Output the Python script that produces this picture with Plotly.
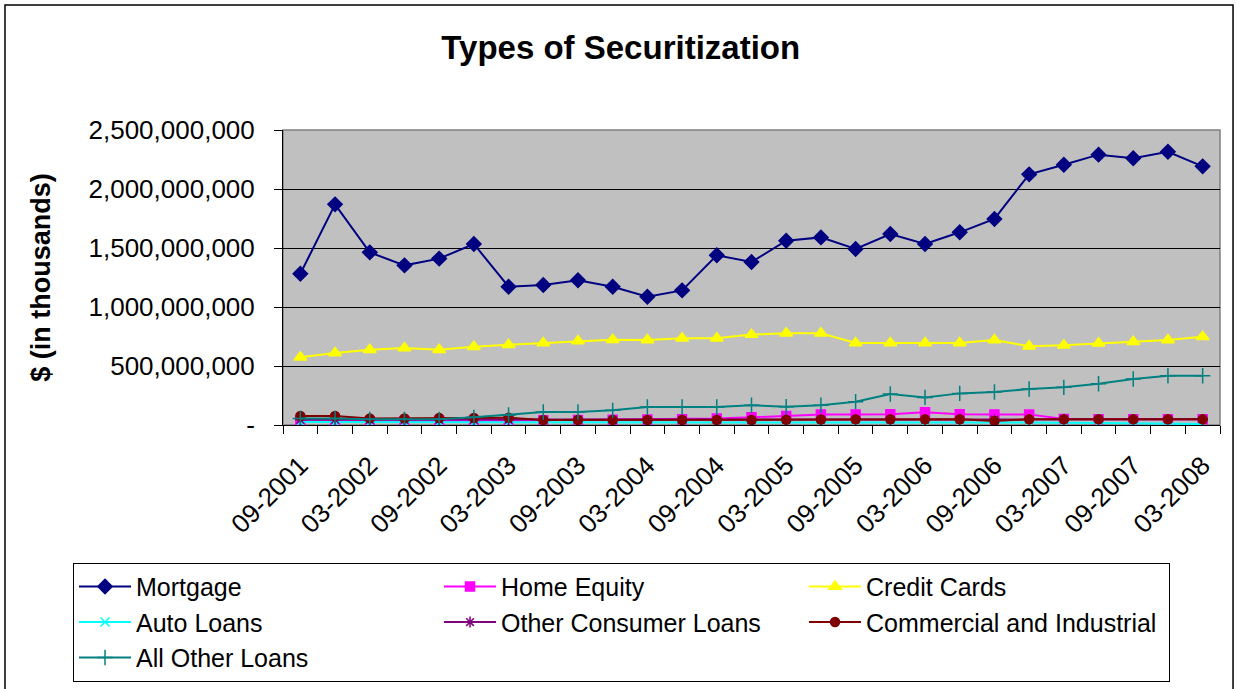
import plotly.graph_objects as go

# Quarter-end reporting dates
quarters = [
    "09-2001", "12-2001", "03-2002", "06-2002", "09-2002", "12-2002",
    "03-2003", "06-2003", "09-2003", "12-2003", "03-2004", "06-2004",
    "09-2004", "12-2004", "03-2005", "06-2005", "09-2005", "12-2005",
    "03-2006", "06-2006", "09-2006", "12-2006", "03-2007", "06-2007",
    "09-2007", "12-2007", "03-2008",
]

# Outstanding securitized balances, $ thousands
mortgage = [
    1282e6, 1870e6, 1463e6, 1353e6, 1410e6, 1534e6, 1172e6, 1186e6, 1226e6,
    1172e6, 1087e6, 1141e6, 1438e6, 1381e6, 1562e6, 1590e6, 1492e6, 1619e6,
    1534e6, 1633e6, 1746e6, 2124e6, 2206e6, 2291e6, 2260e6, 2316e6, 2192e6,
]
home_equity = [
    30e6, 30e6, 32e6, 32e6, 34e6, 36e6, 38e6, 40e6, 42e6, 44e6, 46e6, 48e6,
    55e6, 65e6, 76e6, 90e6, 90e6, 92e6, 107e6, 92e6, 90e6, 90e6, 50e6,
    48e6, 48e6, 48e6, 48e6,
]
credit_cards = [
    574e6, 610e6, 638e6, 653e6, 638e6, 664e6, 681e6, 695e6, 712e6, 723e6,
    720e6, 735e6, 735e6, 766e6, 777e6, 777e6, 695e6, 695e6, 695e6, 695e6,
    720e6, 667e6, 675e6, 692e6, 706e6, 720e6, 748e6,
]
auto_loans = [
    25e6, 25e6, 24e6, 24e6, 24e6, 23e6, 23e6, 22e6, 22e6, 22e6, 21e6, 21e6,
    21e6, 20e6, 20e6, 20e6, 20e6, 20e6, 20e6, 20e6, 20e6, 20e6, 20e6, 18e6,
    15e6, 8e6, 8e6,
]
other_consumer = [
    45e6, 45e6, 44e6, 44e6, 44e6, 44e6, 44e6, 42e6, 42e6, 42e6, 42e6, 42e6,
    42e6, 42e6, 44e6, 46e6, 46e6, 46e6, 46e6, 46e6, 46e6, 48e6, 48e6, 48e6,
    48e6, 48e6, 48e6,
]
commercial_industrial = [
    76e6, 76e6, 56e6, 56e6, 59e6, 60e6, 62e6, 42e6, 42e6, 42e6, 42e6, 42e6,
    42e6, 42e6, 45e6, 46e6, 48e6, 48e6, 48e6, 48e6, 34e6, 48e6, 48e6, 48e6,
    48e6, 48e6, 48e6,
]
all_other = [
    56e6, 56e6, 48e6, 48e6, 48e6, 65e6, 85e6, 110e6, 110e6, 124e6, 153e6,
    153e6, 153e6, 167e6, 155e6, 167e6, 198e6, 263e6, 234e6, 268e6, 280e6,
    305e6, 319e6, 350e6, 390e6, 418e6, 418e6,
]

y_ticks = [0, 500e6, 1000e6, 1500e6, 2000e6, 2500e6]
y_tick_labels = ["-", "500,000,000", "1,000,000,000", "1,500,000,000",
                 "2,000,000,000", "2,500,000,000"]

FONT = "Arial, 'Liberation Sans', sans-serif"
idx = list(range(len(quarters)))

series = [
    ("Mortgage", mortgage, "#000080", "diamond", 11),
    ("Home Equity", home_equity, "#FF00FF", "square", 9),
    ("Credit Cards", credit_cards, "#FFFF00", "triangle-up", 11),
    ("Auto Loans", auto_loans, "#00FFFF", "x-thin-open", 9),
    ("Other Consumer Loans", other_consumer, "#800080", "asterisk-open", 9),
    ("Commercial and Industrial", commercial_industrial, "#800000", "circle", 9),
    ("All Other Loans", all_other, "#008080", "cross-thin-open", 11),
]

fig = go.Figure()
for name, vals, color, symbol, size in series:
    fig.add_trace(go.Scatter(
        x=idx, y=vals, name=name, mode="lines+markers",
        line=dict(color=color, width=2),
        marker=dict(symbol=symbol, size=size, color=color,
                    line=dict(color=color, width=1.5)),
    ))

fig.update_layout(
    width=1239, height=689,
    margin=dict(l=283, r=19, t=130, b=264, autoexpand=False),
    paper_bgcolor="white",
    plot_bgcolor="#C0C0C0",
    font=dict(family=FONT, color="black"),
    title=dict(text="<b>Types of Securitization</b>",
               font=dict(size=33, family=FONT),
               x=0.501, xref="container", xanchor="center",
               y=1 - 47 / 689, yref="container", yanchor="middle"),
    showlegend=True,
    legend=dict(
        orientation="h", x=-0.2241, xanchor="left", y=-0.467, yanchor="top",
        bordercolor="black", borderwidth=1, bgcolor="white",
        font=dict(size=25, family=FONT),
        entrywidth=298, entrywidthmode="pixels",
        itemwidth=52,
        traceorder="normal",
    ),
    shapes=[
        # chart frame
        dict(type="rect", xref="paper", yref="paper",
             x0=-0.2967, x1=1.0139, y0=-0.95, y1=1.4237,
             line=dict(color="black", width=1.5), layer="below"),
        # plot-area frame
        dict(type="rect", xref="paper", yref="paper",
             x0=0, x1=1, y0=0, y1=1,
             line=dict(color="#808080", width=1.5), layer="below"),
    ],
)

fig.update_xaxes(
    range=[-0.5, len(quarters) - 0.5],
    tickvals=idx[::2], ticktext=quarters[::2],
    tickangle=-45, tickfont=dict(size=26, family=FONT),
    ticks="", showgrid=False, zeroline=False,
    ticklabelstandoff=14, automargin=False,
    showline=True, linecolor="black", linewidth=1,
    minor=dict(ticks="outside", tick0=-0.5, dtick=1, ticklen=8,
               tickcolor="black", showgrid=False),
)

fig.update_yaxes(
    range=[0, 2500e6],
    tickvals=y_ticks, ticktext=y_tick_labels,
    tickfont=dict(size=26, family=FONT),
    ticks="outside", ticklen=8, tickcolor="black",
    ticklabelstandoff=14, automargin=False,
    showgrid=True, gridcolor="black", gridwidth=1,
    zeroline=False,
    showline=True, linecolor="black", linewidth=1,
    title=dict(text="<b>$ (in thousands)</b>", font=dict(size=27, family=FONT),
               standoff=30),
)

fig.write_html("out.html")
